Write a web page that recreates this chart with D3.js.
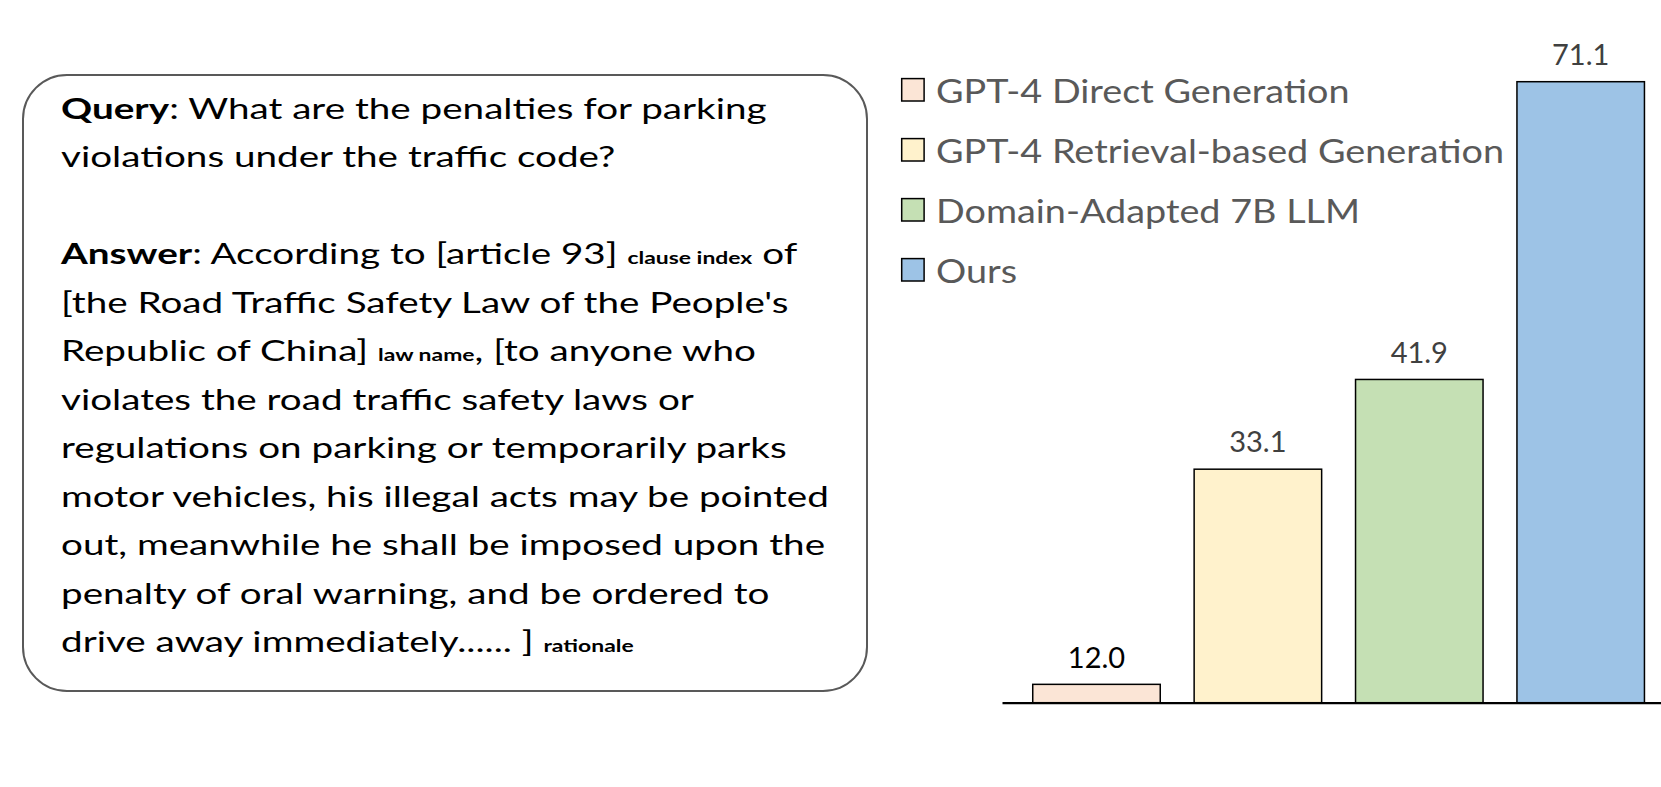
<!DOCTYPE html>
<html>
<head>
<meta charset="utf-8">
<script src="https://cdn.jsdelivr.net/npm/d3@7"></script>
<style>
  html, body { margin: 0; padding: 0; background: #fff; }
  svg { display: block; }
</style>
</head>
<body>
<svg id="chart" width="1661" height="787"></svg>
<script>
// ---------------- data ----------------
const methods = ["GPT-4 Direct Generation", "GPT-4 Retrieval-based Generation", "Domain-Adapted 7B LLM", "Ours"];
const scores = [12.0, 33.1, 41.9, 71.1];
const scoreLabels = ["12.0", "33.1", "41.9", "71.1"];
const yMin = 10.2;   // truncated value axis start

// text lines in the rounded box: [segment text, kind] (b = bold, n = normal, s = small bold tag)
const queryLines = [
  [["Query", "b"], [": What are the penalties for parking", "n"]],
  [["violations under the traffic code?", "n"]]
];
const answerLines = [
  [["Answer", "b"], [": According to [article 93] ", "n"], ["clause index", "s"], [" of", "n"]],
  [["[the Road Traffic Safety Law of the People's", "n"]],
  [["Republic of China] ", "n"], ["law name", "s"], [", [to anyone who", "n"]],
  [["violates the road traffic safety laws or", "n"]],
  [["regulations on parking or temporarily parks", "n"]],
  [["motor vehicles, his illegal acts may be pointed", "n"]],
  [["out, meanwhile he shall be imposed upon the", "n"]],
  [["penalty of oral warning, and be ordered to", "n"]],
  [["drive away immediately...... ] ", "n"], ["rationale", "s"]]
];

// ---------------- styles ----------------
const fills = ["#FBE5D6", "#FFF2CC", "#C5E0B4", "#9DC3E6"];
const FONT = "Lato, 'Open Sans', 'DejaVu Sans', sans-serif";

const svg = d3.select("#chart");

// ---------------- left rounded box ----------------
const box = { x: 23, y: 75, w: 844, h: 616, r: 44 };
svg.append("rect")
  .attr("x", box.x).attr("y", box.y)
  .attr("width", box.w).attr("height", box.h)
  .attr("rx", box.r).attr("ry", box.r)
  .attr("fill", "#fff")
  .attr("stroke", "#595959")
  .attr("stroke-width", 2);

const allLines = [...queryLines, [], ...answerLines];
const textX = 61, firstBase = 119, lineGap = 48.5;
const mainSize = 29.5, smallSize = 17.5;

const textG = svg.append("g");
const lineNodes = [];
allLines.forEach((segs, i) => {
  const t = textG.append("text")
    .attr("x", 0)
    .attr("y", firstBase + i * lineGap)
    .attr("font-family", FONT)
    .attr("fill", "#000")
    .attr("xml:space", "preserve")
    .style("white-space", "pre");
  segs.forEach(([s, kind]) => {
    t.append("tspan")
      .attr("font-size", kind === "s" ? smallSize : mainSize)
      .attr("font-weight", kind === "n" ? 400 : 700)
      .text(s);
  });
  lineNodes.push(t);
});
// horizontal fit: reference line width measured in the picture
const refIdx = allLines.findIndex(l => l.length && l[0][0].startsWith("motor vehicles"));
const refW = lineNodes[refIdx].node().getComputedTextLength();
const sxBox = 768 / refW;
textG.attr("transform", `translate(${textX},0) scale(${sxBox},1)`);

// ---------------- bar chart ----------------
const x = d3.scaleBand()
  .domain(methods)
  .range([1002, 1661])
  .paddingInner(0.21)
  .paddingOuter(0.1465)
  .align(0.65);

const y = d3.scaleLinear()
  .domain([yMin, 71.1])
  .range([702.7, 81.7]);

const color = d3.scaleOrdinal().domain(methods).range(fills);

svg.append("g")
  .selectAll("rect")
  .data(methods)
  .join("rect")
  .attr("x", d => x(d))
  .attr("y", (d, i) => y(scores[i]))
  .attr("width", x.bandwidth())
  .attr("height", (d, i) => y(yMin) - y(scores[i]))
  .attr("fill", d => color(d))
  .attr("stroke", "#000")
  .attr("stroke-width", 1.5);

// baseline axis
const axisG = svg.append("g")
  .attr("transform", `translate(0,${y(yMin)})`)
  .call(d3.axisBottom(x).tickSize(0).tickSizeOuter(0).tickFormat(""));
axisG.select(".domain").attr("stroke", "#000").attr("stroke-width", 2.2);
axisG.selectAll(".tick").remove();

// value labels
svg.append("g")
  .selectAll("text")
  .data(methods)
  .join("text")
  .attr("x", d => x(d) + x.bandwidth() / 2)
  .attr("y", (d, i) => y(scores[i]) - 16.7)
  .attr("text-anchor", "middle")
  .attr("font-family", FONT)
  .attr("font-size", 29)
  .attr("fill", (d, i) => i === 0 ? "#000" : "#404040")
  .text((d, i) => scoreLabels[i]);

// ---------------- legend ----------------
const legG = svg.append("g");
const legStep = 60;
const legItems = legG.selectAll("g")
  .data(methods)
  .join("g")
  .attr("transform", (d, i) => `translate(0,${i * legStep})`);
legItems.append("rect")
  .attr("x", 901.7).attr("y", 78.6)
  .attr("width", 22.4).attr("height", 22.4)
  .attr("fill", d => color(d))
  .attr("stroke", "#000")
  .attr("stroke-width", 1.5);
const legTexts = legItems.append("text")
  .attr("x", 0)
  .attr("y", 103.3)
  .attr("font-family", FONT)
  .attr("font-size", 32.4)
  .attr("fill", "#595959")
  .text(d => d);
// horizontal fit from the widest entry
const legRefW = legTexts.filter((d, i) => i === 1).node().getComputedTextLength();
const sxLeg = 568 / legRefW;
legTexts.attr("transform", `translate(936,0) scale(${sxLeg},1)`);
</script>
</body>
</html>
